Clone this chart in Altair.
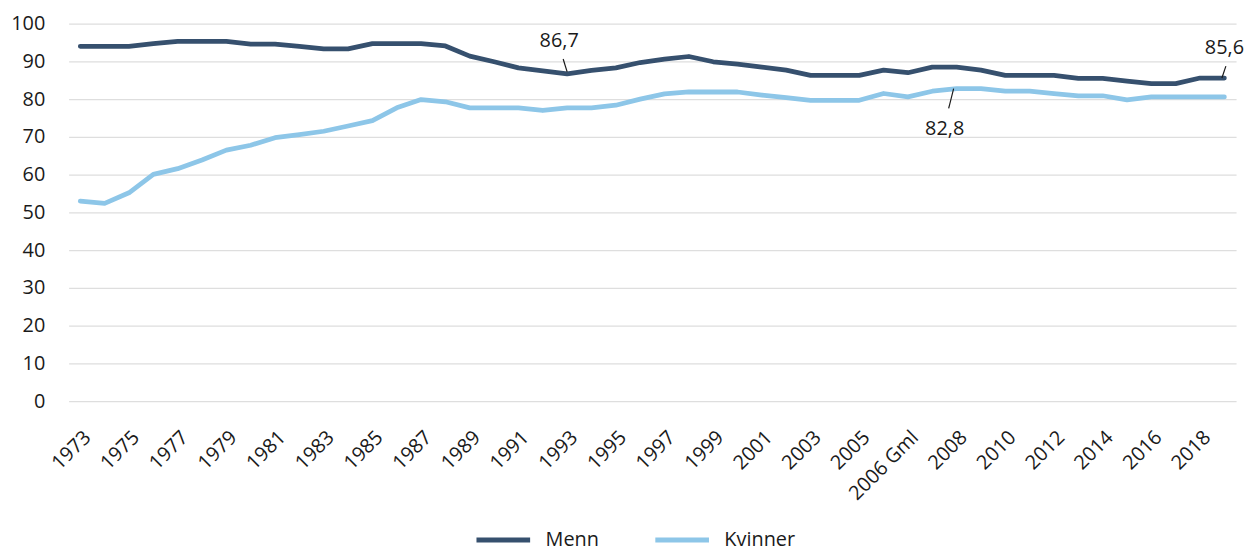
import json
import altair as alt
import pandas as pd

# ---- data ----
categories = [str(y) for y in range(1973, 2006)] + ["2006 Ny", "2006 Gml"] + [str(y) for y in range(2007, 2020)]

menn = [94.0, 94.0, 94.0, 94.7, 95.3, 95.3, 95.3, 94.6, 94.6, 94.0,
        93.3, 93.3, 94.7, 94.7, 94.7, 94.1, 91.4, 89.9, 88.3, 87.5,
        86.7, 87.6, 88.3, 89.7, 90.6, 91.3, 89.9, 89.3, 88.5, 87.7,
        86.3, 86.3, 86.3, 87.7, 87.0, 88.5, 88.5, 87.7, 86.3, 86.3,
        86.3, 85.5, 85.5, 84.8, 84.1, 84.1, 85.6, 85.6]

kvinner = [53.0, 52.4, 55.2, 60.1, 61.6, 63.9, 66.5, 67.8, 69.8, 70.6,
           71.5, 72.9, 74.3, 77.7, 79.9, 79.3, 77.7, 77.7, 77.7, 77.0,
           77.7, 77.7, 78.4, 80.0, 81.4, 81.9, 81.9, 81.9, 81.1, 80.4,
           79.7, 79.7, 79.7, 81.5, 80.6, 82.1, 82.8, 82.8, 82.1, 82.1,
           81.5, 80.9, 80.9, 79.8, 80.6, 80.6, 80.6, 80.6]

series_names = ["Menn", "Kvinner"]
series_colors = ["#36506e", "#8dc6e8"]

shown_labels = categories[0:33:2] + ["2006 Gml"] + [str(y) for y in range(2008, 2019, 2)]

y_ticks = list(range(0, 101, 10))

ann_cats = ["1993", "2008", "2019"]
ann_values = [86.7, 82.8, 85.6]
ann_texts = ["86,7", "82,8", "85,6"]

# ---- frames ----
rows = []
for name, vals in zip(series_names, [menn, kvinner]):
    for i, (c, v) in enumerate(zip(categories, vals)):
        rows.append({"series": name, "idx": i, "cat": c, "value": v})
df = pd.DataFrame(rows)

FONT = "Open Sans"
TXT = "#1a1a1a"

pad = 0.48
shown_idx = [categories.index(c) for c in shown_labels]
label_expr = json.dumps(categories) + "[round(datum.value)]"

x_enc = alt.X(
    "idx:Q",
    scale=alt.Scale(domain=[-pad, len(categories) - 1 + pad], nice=False, zero=False),
    axis=alt.Axis(
        values=shown_idx, labelExpr=label_expr, title=None, labelAngle=-45,
        labelAlign="right", labelBaseline="middle", labelPadding=33, labelOffset=7,
        ticks=False, domain=False, grid=False, labelFont=FONT, labelFontSize=20,
        labelColor=TXT, labelOverlap=False, labelFlush=False,
    ),
)
y_enc = alt.Y(
    "value:Q",
    scale=alt.Scale(domain=[0, 100], nice=False, zero=True),
    axis=alt.Axis(
        values=y_ticks, title=None, ticks=False, domain=False, grid=True,
        gridColor="#dedede", gridWidth=1.3, labelPadding=24, labelOverlap=False,
        labelFont=FONT, labelFontSize=20, labelColor=TXT, labelFlush=False,
    ),
)

lines = alt.Chart(df).mark_line(strokeWidth=4.8, strokeCap="round", strokeJoin="round").encode(
    x=x_enc,
    y=y_enc,
    color=alt.Color(
        "series:N",
        scale=alt.Scale(domain=series_names, range=series_colors),
        legend=alt.Legend(
            title=None, orient="none", direction="horizontal",
            legendX=408, legendY=490, symbolType="stroke", symbolSize=2916,
            symbolStrokeWidth=5, labelFont=FONT, labelFontSize=20,
            labelColor=TXT, labelOffset=13, columnPadding=46,
        ),
    ),
    detail="series:N",
)

text_offsets = [(-8, -33), (-12, 41), (0, -30)]
rule_offsets = [(0, -2, -4, -15), (-3, 0, -8, 20), (-2.5, 0, 1.5, -12)]

layers = [lines]
for i in range(len(ann_cats)):
    adf = pd.DataFrame({
        "idx": [categories.index(ann_cats[i])],
        "value": [ann_values[i]],
        "label": [ann_texts[i]],
    })
    dx, dy = text_offsets[i]
    xo, yo, x2o, y2o = rule_offsets[i]
    layers.append(
        alt.Chart(adf).mark_text(
            dx=dx, dy=dy, font=FONT, fontSize=20, color=TXT, align="center", baseline="middle"
        ).encode(x=x_enc, y=y_enc, text="label:N")
    )
    layers.append(
        alt.Chart(adf).mark_rule(
            color=TXT, strokeWidth=1.2, xOffset=xo, yOffset=yo, x2Offset=x2o, y2Offset=y2o
        ).encode(
            x=x_enc, x2=alt.X2("idx"),
            y=y_enc, y2=alt.Y2("value"),
        )
    )

chart = alt.layer(*layers).properties(
    width=1175, height=380,
    background="white",
    autosize=alt.AutoSizeParams(type="none"),
    padding={"left": 61, "top": 14, "right": 11, "bottom": 150},
).configure_view(stroke=None, strokeWidth=0)

chart.save("out.html", embed_options={"renderer": "svg", "actions": False})
